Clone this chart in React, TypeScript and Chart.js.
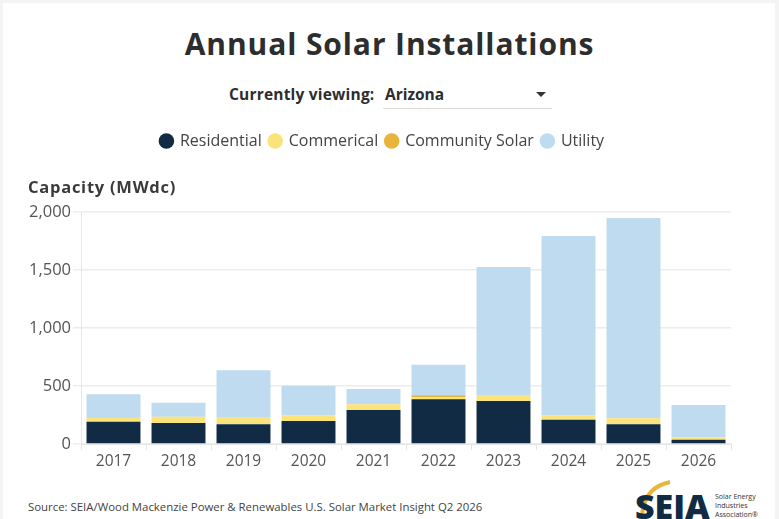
import React, { useEffect, useRef } from "react";
import { Chart, registerables } from "chart.js";

Chart.register(...registerables);

const years = ["2017", "2018", "2019", "2020", "2021", "2022", "2023", "2024", "2025", "2026"];
const residential = [192, 181, 170, 198, 293, 386, 371, 210, 170, 37];
const commercial = [32, 54, 57, 49, 49, 20, 51, 37, 51, 21];
const communitySolar = [0, 0, 0, 0, 0, 15, 0, 0, 0, 0];
const utility = [204, 121, 408, 256, 132, 263, 1104, 1546, 1727, 278];
const yTicks = [0, 500, 1000, 1500, 2000];

const FONT = "'Open Sans', 'DejaVu Sans', sans-serif";

const legendHeightPlugin = {
  id: "legendHeight",
  beforeInit(chart: any) {
    const legend = chart.legend;
    if (!legend) return;
    const orig = legend.fit;
    legend.fit = function () {
      orig.call(this);
      this.height = 87;
    };
  },
};

export default function App() {
  const ref = useRef<HTMLCanvasElement | null>(null);

  useEffect(() => {
    document.body.style.margin = "0";
    document.body.style.background = "#f4f4f4";
    const ctx = ref.current!.getContext("2d")!;
    const chart = new Chart(ctx, {
      type: "bar",
      data: {
        labels: years,
        datasets: [
          { label: "Residential", data: residential, backgroundColor: "#112b45" },
          { label: "Commerical", data: commercial, backgroundColor: "#fbe37c" },
          { label: "Community Solar", data: communitySolar, backgroundColor: "#e8b43c" },
          { label: "Utility", data: utility, backgroundColor: "#bedbf0" },
        ],
      },
      options: {
        responsive: false,
        animation: false,
        maintainAspectRatio: false,
        layout: { padding: { left: 0, right: 14, top: 0, bottom: 0 } },
        datasets: { bar: { barPercentage: 0.83, categoryPercentage: 1 } },
        plugins: {
          tooltip: { enabled: false },
          legend: {
            display: true,
            position: "top",
            labels: {
              usePointStyle: true,
              pointStyle: "circle",
              boxWidth: 11,
              boxHeight: 11,
              padding: 8,
              color: "#444",
              font: { family: FONT, size: 16 },
            },
          },
        },
        scales: {
          x: {
            stacked: true,
            grid: { display: true, drawOnChartArea: false, drawTicks: true, tickLength: 6, color: "#e6e6e6" },
            border: { display: true, color: "#e6e6e6" },
            ticks: { color: "#555", font: { family: FONT, size: 15.5 }, padding: 2 },
            afterFit(scale: any) {
              scale.height = 36;
            },
          },
          y: {
            stacked: true,
            min: 0,
            max: 2000,
            afterBuildTicks(scale: any) {
              scale.ticks = yTicks.map((v) => ({ value: v }));
            },
            grid: { color: "#ececec", tickLength: 8, lineWidth: 1.5 },
            border: { display: true, color: "#e6e6e6" },
            ticks: {
              color: "#555",
              font: { family: FONT, size: 16.5 },
              padding: 2,
              callback: (v: any) => Number(v).toLocaleString("en-US"),
            },
            afterFit(scale: any) {
              scale.width = 81;
            },
          },
          yRight: {
            type: "linear",
            position: "right",
            display: true,
            grid: { display: false, drawTicks: false },
            border: { display: false },
            ticks: { display: false },
            afterFit(scale: any) {
              scale.width = 34;
            },
          },
        },
      },
      plugins: [legendHeightPlugin],
    });
    return () => chart.destroy();
  }, []);

  return (
    <div style={{ position: "relative", width: 779, height: 519, overflow: "hidden", fontFamily: FONT }}>
      <div style={{ position: "absolute", left: 3, top: 3, width: 772, height: 520, background: "#fff" }} />
      <div
        style={{
          position: "absolute",
          left: 0,
          width: 779,
          top: 24,
          textAlign: "center",
          fontSize: 30,
          fontWeight: 700,
          color: "#2d2d2d",
          lineHeight: "40px",
          letterSpacing: 0.9,
        }}
      >
        Annual Solar Installations
      </div>
      <div
        style={{
          position: "absolute",
          left: 229,
          top: 83,
          fontSize: 15.5,
          fontWeight: 700,
          color: "#2d2d2d",
          lineHeight: "22px",
          letterSpacing: 0.2,
        }}
      >
        Currently viewing:
      </div>
      <div
        style={{
          position: "absolute",
          left: 385,
          top: 83,
          fontSize: 15.5,
          fontWeight: 700,
          color: "#2d2d2d",
          lineHeight: "22px",
        }}
      >
        Arizona
      </div>
      <div style={{ position: "absolute", left: 383, top: 108, width: 169, height: 1, background: "#dcdcdc" }} />
      <div
        style={{
          position: "absolute",
          left: 536,
          top: 92,
          width: 0,
          height: 0,
          borderLeft: "5px solid transparent",
          borderRight: "5px solid transparent",
          borderTop: "5px solid #333",
        }}
      />
      <canvas ref={ref} width={779} height={355} style={{ position: "absolute", left: 0, top: 125, width: 779, height: 355 }} />
      <div
        style={{
          position: "absolute",
          left: 28,
          top: 175,
          fontSize: 16.5,
          fontWeight: 700,
          color: "#3a3a3a",
          lineHeight: "24px",
          letterSpacing: 0.75,
        }}
      >
        Capacity (MWdc)
      </div>
      <div
        style={{
          position: "absolute",
          left: 28,
          top: 499,
          fontSize: 11.4,
          color: "#444",
          lineHeight: "16px",
        }}
      >
        Source: SEIA/Wood Mackenzie Power &amp; Renewables U.S. Solar Market Insight Q2 2026
      </div>
      <svg style={{ position: "absolute", left: 620, top: 480 }} width={150} height={39}>
        <path d="M 22 39 Q 22 8 50 2" stroke="#e9b43a" strokeWidth={4} fill="none" />
      </svg>
      <div
        style={{
          position: "absolute",
          left: 635,
          top: 488,
          fontSize: 34,
          fontWeight: 800,
          color: "#112b45",
          lineHeight: "36px",
          letterSpacing: 0,
        }}
      >
        SEIA
      </div>
      <div
        style={{
          position: "absolute",
          left: 715,
          top: 492,
          fontSize: 7,
          color: "#333",
          lineHeight: "9px",
        }}
      >
        Solar Energy
        <br />
        Industries
        <br />
        Association®
      </div>
    </div>
  );
}
